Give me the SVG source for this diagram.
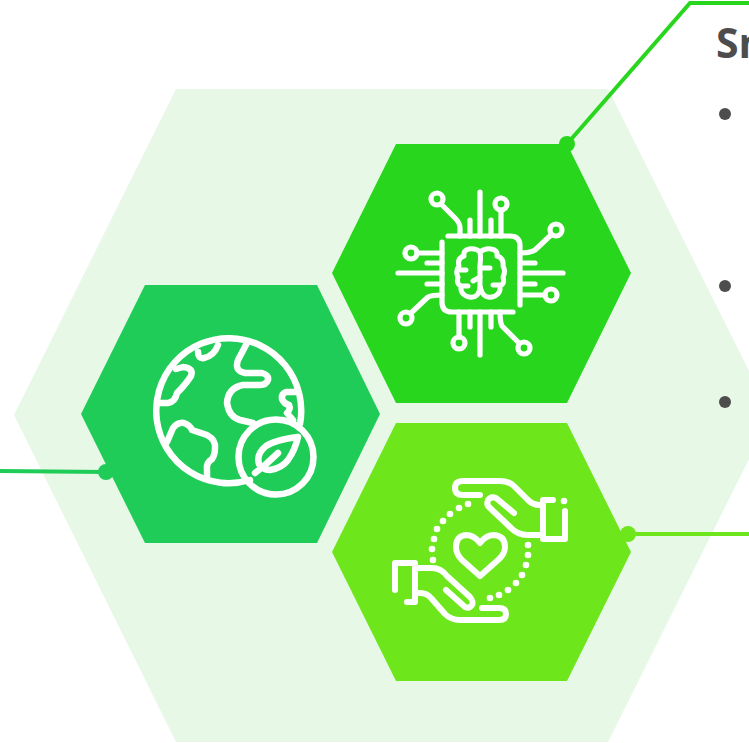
<svg xmlns="http://www.w3.org/2000/svg" width="749" height="743" viewBox="0 0 749 743">
<style>
.i{fill:none;stroke:#fff;stroke-width:5.2;stroke-linecap:round;stroke-linejoin:round}
.c{fill:none;stroke-width:4}
.t{font-family:"Open Sans","Noto Sans",sans-serif;fill:#4d4d4d}
</style>
<rect width="749" height="743" fill="#fff"/>
<polygon id="backdrop" points="176,89 608,89 771,415 608,742 176,742 14,415" fill="#e7f8e6"/>
<g id="connectors">
<polyline class="c" points="567,144 690,3 749,3" stroke="#28d61e"/>
<circle cx="567" cy="144" r="8" fill="#28d61e"/>
<polyline class="c" points="0,471 106,472" stroke="#20cc58"/>
<circle cx="106" cy="472" r="8" fill="#20cc58"/>
<polyline class="c" points="628,534 749,534" stroke="#6ee61c"/>
<circle cx="628" cy="534" r="8" fill="#6ee61c"/>
</g>
<g id="node-ai">
<polygon points="396,144 567,144 631,273 567,403 396,403 332,273" fill="#28d61e"/>
<g class="i">
<path d="M448 236H510Q520 236 520 246V305M513 312H452Q442 312 442 302V242"/>
<path d="M480 192V236M480 312V355M398 273H442M520 273H563"/>
<path d="M470 220V236M491 220V236M427 263H442M427 284H442M520 263H535M520 284H535M470 312V327M491 312V327"/>
<circle cx="437" cy="199" r="6"/><path d="M442 205L455 218Q460 223 460 228V236"/>
<circle cx="501" cy="204" r="6"/><path d="M501 210V236"/>
<circle cx="556" cy="230" r="6"/><path d="M551 235L535 250Q530 253 520 253"/>
<circle cx="411" cy="253" r="6"/><path d="M417 253H442"/>
<circle cx="551" cy="295" r="6"/><path d="M520 295H545"/>
<circle cx="406" cy="318" r="6"/><path d="M411 313L428 297Q432 295 442 295"/>
<circle cx="459" cy="343" r="6"/><path d="M459 312V337"/>
<circle cx="524" cy="348" r="6"/><path d="M519 343L502 326Q500 322 500 312"/>
<g style="stroke-width:5">
<path d="M480 252Q476 248 469 249Q463 250 464 256Q457 258 459 266Q455 271 458 277Q456 284 461 286Q460 293 466 296Q473 299 477 295Q480 292 480 285V265Q481 258 480 252Q485 248 491 249Q498 250 497 256Q504 258 503 266Q506 271 503 277Q505 284 500 286Q501 293 495 296Q488 299 484 295Q481 292 480 285"/>
<path d="M480 268H490M473 281L480 277M458 270H466M461 286H468M500 285H493"/>
</g>
</g>
</g>
<g id="node-earth">
<polygon points="145,285 317,285 380,414 317,543 145,543 81,414" fill="#20cc58"/>
<g class="i" style="stroke-width:6.5">
<path d="M250 480A72.5 72.5 0 1 1 300 424"/>
<path d="M160 403H168Q175 402 177 393Q186 384 191 376Q194 368 183 367L176 369"/>
<path d="M198 352Q198 359 204 358Q214 356 218 345"/>
<path d="M247 343L238 360Q234 371 245 373H262Q269 375 268 380Q266 385 260 385H243Q228 388 227 403Q229 417 240 420L253 423"/>
<path d="M295 392H286Q281 394 282 399Q284 404 289 405Q291 409 287 413L293 420"/>
<path d="M167 442L173 428Q178 422 184 423Q190 425 192 430L207 435Q216 440 215 448Q215 455 212 459Q206 463 207 469V477"/>
<circle cx="276" cy="457" r="37.5"/>
<path d="M298 437Q275 440 266 446Q256 454 259 464Q262 470 270 470Q282 468 288 460Q295 450 298 437ZM255 473L265 465M264 466L278 453"/>
</g>
</g>
<g id="node-hands">
<polygon points="396,423 567,423 631,552 567,681 396,681 332,552" fill="#6ee61c"/>
<g class="i" style="stroke-width:6">
<path d="M480 495H463Q455 495 455 488Q455 481 463 481H500Q509 481 514 486L527 499Q532 505 540 505H543M543 500H553M543 500V539H565V511"/>
<path d="M514 513L496 498Q491 496 488 500Q486 505 490 508L510 527Q517 535 528 535H543"/>
<path d="M480 543Q474 535 466 535Q456 536 456 547Q456 554 462 560L480 576L498 560Q505 554 505 547Q505 536 494 535Q486 535 480 543Z"/>
<path d="M482 608H499Q506 608 506 614Q506 620 499 620H460Q451 620 445 614L431 598Q427 593 420 593H415M407 602H415M415 602V563H395V590"/>
<path d="M415 568H432Q441 568 447 576L470 597Q474 602 472 605Q469 609 465 607L446 590"/>
</g>
<g fill="#fff"><circle cx="564" cy="501" r="3.3"/><circle cx="468" cy="504" r="3.3"/><circle cx="459" cy="508" r="3.3"/><circle cx="450" cy="514" r="3.3"/><circle cx="443" cy="521" r="3.3"/><circle cx="437" cy="529" r="3.3"/><circle cx="434" cy="539" r="3.3"/><circle cx="432" cy="549" r="3.3"/><circle cx="433" cy="560" r="3.3"/><circle cx="528" cy="545" r="3.3"/><circle cx="528" cy="555" r="3.3"/><circle cx="526" cy="565" r="3.3"/><circle cx="522" cy="575" r="3.3"/><circle cx="516" cy="583" r="3.3"/><circle cx="508" cy="590" r="3.3"/><circle cx="499" cy="595" r="3.3"/><circle cx="490" cy="598" r="3.3"/></g>
</g>
<g id="text">
<text class="t" x="716" y="58" font-size="41" font-weight="700">Sm</text>
<circle cx="725" cy="114" r="6" fill="#4d4d4d"/>
<circle cx="725" cy="286" r="6" fill="#4d4d4d"/>
<circle cx="725" cy="402" r="6" fill="#4d4d4d"/>
</g>
</svg>
